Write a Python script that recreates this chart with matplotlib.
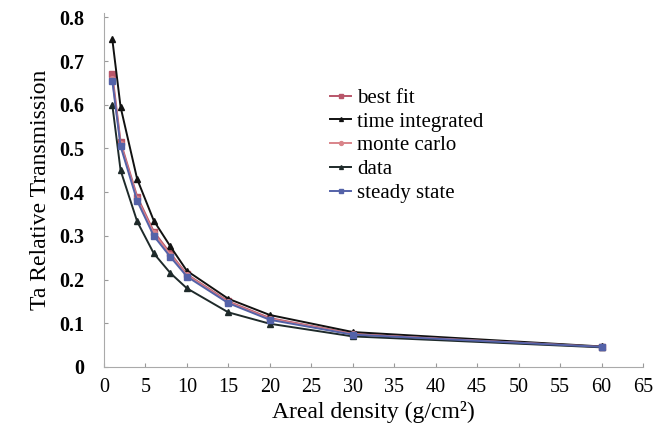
import matplotlib
matplotlib.use("Agg")
import matplotlib.pyplot as plt

density = [1, 2, 4, 6, 8, 10, 15, 20, 30, 60]
best_fit = [0.67, 0.515, 0.39, 0.31, 0.26, 0.212, 0.15, 0.112, 0.076, 0.046]
time_integrated = [0.75, 0.595, 0.43, 0.335, 0.276, 0.22, 0.156, 0.119, 0.08, 0.047]
monte_carlo = [0.66, 0.51, 0.385, 0.306, 0.257, 0.21, 0.148, 0.11, 0.075, 0.046]
data = [0.60, 0.45, 0.333, 0.26, 0.215, 0.18, 0.125, 0.099, 0.07, 0.045]
steady_state = [0.655, 0.505, 0.38, 0.30, 0.252, 0.207, 0.146, 0.108, 0.074, 0.046]

series = [
    ("best fit", best_fit, "#b9566a", "s"),
    ("time integrated", time_integrated, "#111111", "^"),
    ("monte carlo", monte_carlo, "#d9848a", "o"),
    ("data", data, "#1e2a2a", "^"),
    ("steady state", steady_state, "#5462a8", "s"),
]

plt.rcParams["font.family"] = ["Liberation Serif", "DejaVu Serif"]

fig = plt.figure(figsize=(6.56, 4.43), dpi=100)
ax = fig.add_axes([104 / 656, 1 - 367 / 443, (643 - 104) / 656, (367 - 13) / 443])

for label, values, color, marker in series:
    ax.plot(density, values, color=color, marker=marker, markersize=4, linewidth=1.4, label=label)

ax.set_xlim(0, 65)
ax.set_ylim(0, 0.81)
ax.set_xticks(range(0, 66, 5))
ax.set_yticks([0, 0.1, 0.2, 0.3, 0.4, 0.5, 0.6, 0.7, 0.8])
ax.set_yticklabels(["0", "0.1", "0.2", "0.3", "0.4", "0.5", "0.6", "0.7", "0.8"], fontweight="bold")
ax.tick_params(axis="both", direction="in", length=3, color="#999999", labelsize=14.5)
ax.tick_params(axis="x", pad=8)
ax.tick_params(axis="y", pad=14)
for side in ("top", "right"):
    ax.spines[side].set_visible(False)
for side in ("left", "bottom"):
    ax.spines[side].set_color("#aaaaaa")

ax.set_xlabel("Areal density (g/cm²)", fontsize=17, labelpad=3)
ax.set_ylabel("Ta Relative Transmission", fontsize=17, labelpad=6)

ax.legend(loc="upper left", bbox_to_anchor=(0.385, 0.84), frameon=False, fontsize=15,
          handlelength=1.0, handletextpad=0.3, labelspacing=0.2, markerscale=0.7)

fig.savefig("out.png", dpi=100)
